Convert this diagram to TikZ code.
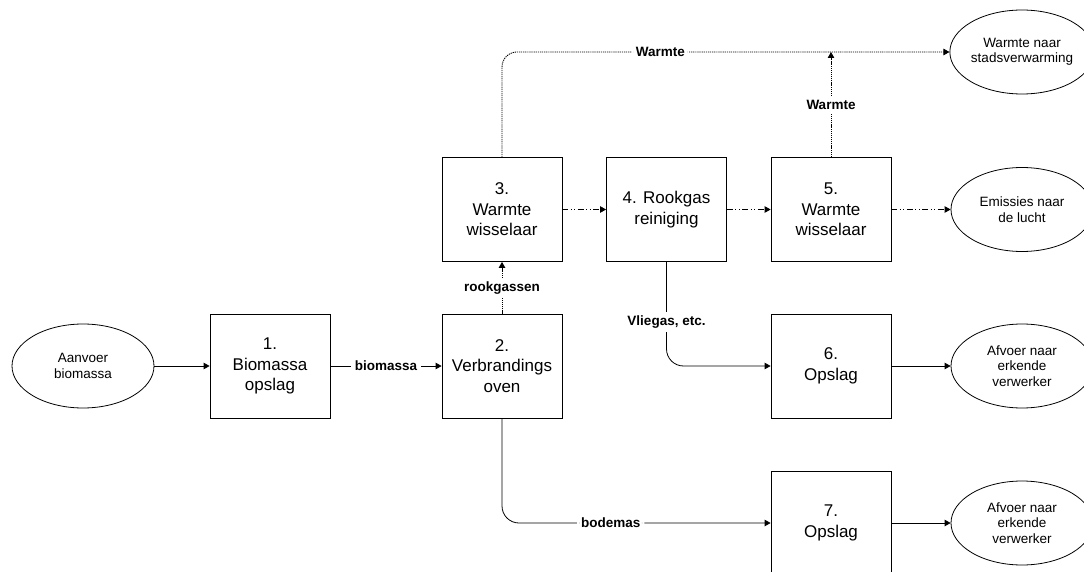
\documentclass[tikz,border=0pt]{standalone}
\usepackage{fontspec}
\setmainfont{Liberation Sans}
\usetikzlibrary{arrows.meta,shapes.geometric}
\begin{document}
\begin{tikzpicture}[x=1pt,y=-1pt,
  proc/.style={draw, line width=0.8pt, minimum width=120pt, minimum height=104pt, inner sep=0pt, align=center, font=\fontsize{17}{20.5}\selectfont},
  term/.style={draw, ellipse, line width=0.8pt, minimum width=142pt, minimum height=84pt, inner sep=0pt, align=center, font=\fontsize{13.5}{15.5}\selectfont},
  lbl/.style={font=\bfseries\fontsize{13.5}{15}\selectfont, fill=white, inner xsep=4pt, inner ysep=3.5pt},
  flow/.style={line width=0.8pt, -{Triangle[length=6pt,width=6.5pt]}},
  dd/.style={dash pattern=on 6pt off 2.5pt on 1pt off 2.5pt on 1pt off 2.5pt},
  dots/.style={line width=0.9pt, dash pattern=on 1.2pt off 0.9pt},
]
\useasboundingbox (0,0) rectangle (1084,572);
\node[term] (src) at (83,366) {Aanvoer\\biomassa};
\node[proc] (b1) at (270,366) {1.\\Biomassa\\opslag};
\node[proc] (b2) at (502,366) {2.\\Verbrandings\\oven};
\node[proc] (b3) at (502,209.5) {3.\\Warmte\\wisselaar};
\node[proc] (b4) at (666.5,209.5) {4. Rookgas\\reiniging};
\node[proc] (b5) at (831,209.5) {5.\\Warmte\\wisselaar};
\node[proc] (b6) at (831,366) {6.\\Opslag};
\node[proc] (b7) at (831,523) {7.\\Opslag};
\node[term] (e1) at (1022,52) {Warmte naar\\stadsverwarming};
\node[term] (e2) at (1022,209.5) {Emissies naar\\de lucht};
\node[term] (e3) at (1022,366) {Afvoer naar\\erkende\\verwerker};
\node[term] (e4) at (1022,523) {Afvoer naar\\erkende\\verwerker};
\coordinate (c1) at (502,52);
\coordinate (j1) at (831,52);
\coordinate (c2) at (666.5,366);
\coordinate (c3) at (502,523);

\draw[flow] (src) -- (b1);
\draw[flow] (b1) -- node[lbl]{biomassa} (b2);
\draw[flow,dots] (b2) -- node[lbl]{rookgassen} (b3);
\draw[flow,dd] (b3) -- (b4);
\draw[flow,dd] (b4) -- (b5);
\draw[flow,dd] (b5) -- (e2);
\draw[flow,dots,rounded corners=15pt] (b3.north) -- (c1) -- node[lbl,pos=0.354]{Warmte} (e1.west);
\draw[flow,dots] (b5.north) -- node[lbl]{Warmte} (j1);
\draw[flow,rounded corners=17pt] (b4.south) -- node[lbl,pos=0.577]{Vliegas, etc.} (c2) -- (b6.west);
\draw[flow,rounded corners=17pt] (b2.south) -- (c3) -- node[lbl,pos=0.405]{bodemas} (b7.west);
\draw[flow] (b6) -- (e3);
\draw[flow] (b7) -- (e4);
\end{tikzpicture}
\end{document}
